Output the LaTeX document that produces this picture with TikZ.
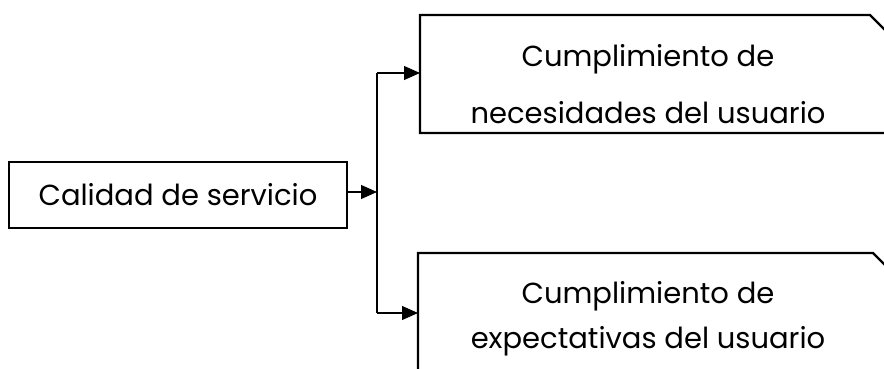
\documentclass[tikz,border=0pt]{standalone}
\usepackage{fontspec}
\setmainfont{Poppins}
\usetikzlibrary{arrows.meta}
\begin{document}
\begin{tikzpicture}[x=1pt,y=-1pt,
  boxline/.style={line width=2.2pt, line join=miter},
  link/.style={line width=1.1pt},
  arrowlink/.style={link, -{Triangle[length=16pt,width=14pt]}},
  label/.style={font=\fontsize{29}{57}\selectfont, align=center, inner sep=0pt}
]
\useasboundingbox (0,0) rectangle (884,369);
\clip (0,0) rectangle (884,369);
% left box
\node[draw, boxline, minimum width=338pt, minimum height=66pt, inner sep=0pt,
      font=\fontsize{29}{34}\selectfont] (cal) at (178,195) {Calidad de servicio};
% top right box
\node[label] (nec) at (648,84) {Cumplimiento de\\necesidades del usuario};
\coordinate (necTL) at (420,15);
\coordinate (necBL) at (420,133);
\coordinate (necL) at (420,73);
\draw[boxline] (900,133) -- (necBL) -- (necTL) -- (870,15) -- (900,45);
% bottom right box
\node[label, font=\fontsize{29}{45}\selectfont] (exp) at (648,319) {Cumplimiento de\\expectativas del usuario};
\coordinate (expTL) at (418,253);
\coordinate (expL) at (418,313);
\draw[boxline] (418,400) -- (expTL) -- (873,253) -- (903,283);
% connectors
\coordinate (jn) at (377,192);
\coordinate (jt) at (377,73);
\coordinate (jb) at (377,313);
\draw[arrowlink] (cal.east |- jn) -- (jn);
\draw[link] (jt) -- (jb);
\draw[arrowlink] (jt) -- (necL);
\draw[arrowlink] (jb) -- (expL);
\end{tikzpicture}
\end{document}
